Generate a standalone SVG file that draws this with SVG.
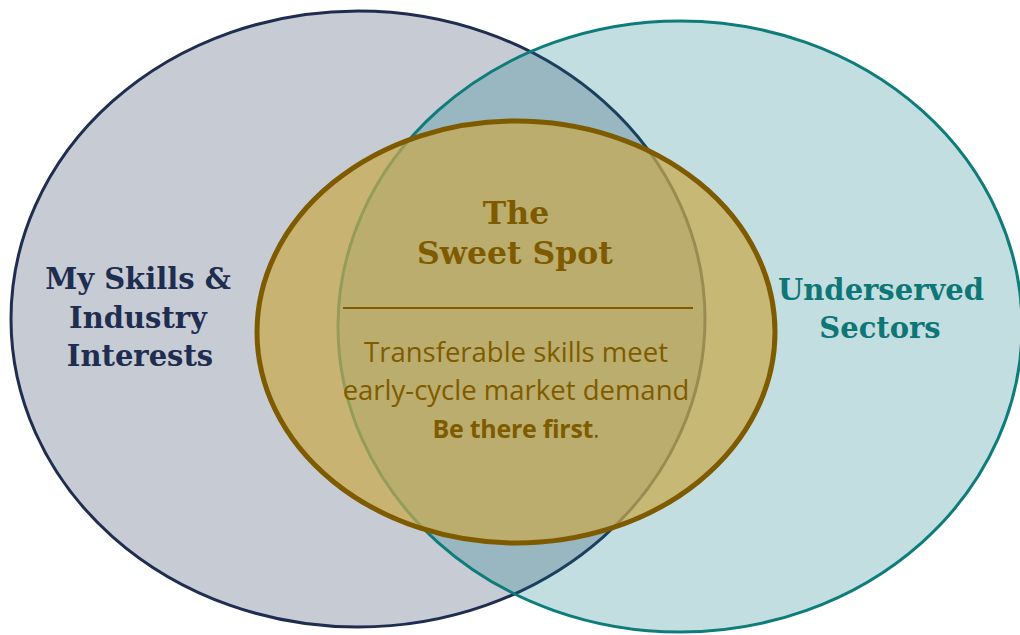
<svg xmlns="http://www.w3.org/2000/svg" width="1020" height="635" viewBox="0 0 1020 635">
  <style>
    .label { font-family: "DejaVu Serif", "Liberation Serif", serif; font-weight: bold; font-size: 29px; text-anchor: middle; }
    .title { font-size: 31.5px; }
    .body { font-family: "Open Sans", "Liberation Sans", sans-serif; font-size: 27.5px; fill: #7F5B00; text-anchor: middle; }
    .cta { font-size: 25px; letter-spacing: -0.3px; }
  </style>
  <rect width="1020" height="635" fill="#ffffff"/>

  <!-- Left circle: skills & interests -->
  <g id="skills">
    <ellipse cx="358" cy="319" rx="347" ry="308" fill="#C6CBD4" stroke="#1F2D50" stroke-width="3"/>
    <text class="label" fill="#1F2D50" x="138" y="289">My Skills &amp;</text>
    <text class="label" fill="#1F2D50" x="138" y="328">Industry</text>
    <text class="label" fill="#1F2D50" x="140" y="366">Interests</text>
  </g>

  <!-- Right circle: underserved sectors -->
  <g id="sectors">
    <ellipse cx="680" cy="326.5" rx="342" ry="305.5" fill="#0F7B84" fill-opacity="0.25" stroke="#0E7C7B" stroke-width="3"/>
    <text class="label" fill="#0E7676" x="881" y="300">Underserved</text>
    <text class="label" fill="#0E7676" x="880" y="338">Sectors</text>
  </g>

  <!-- Centre: the sweet spot -->
  <g id="sweet-spot">
    <ellipse cx="516" cy="332" rx="259" ry="211" fill="#C9A94C" fill-opacity="0.72" stroke="#7F5B00" stroke-width="5"/>
    <text class="label title" fill="#7F5B00" x="516" y="224">The</text>
    <text class="label title" fill="#7F5B00" x="515" y="264">Sweet Spot</text>
    <line x1="343" y1="308" x2="693" y2="308" stroke="#7F5B00" stroke-width="2"/>
    <text class="body" x="516" y="362">Transferable skills meet</text>
    <text class="body" x="516" y="400">early-cycle market demand</text>
    <text class="body cta" x="516" y="438"><tspan font-weight="bold">Be there first</tspan>.</text>
  </g>
</svg>
